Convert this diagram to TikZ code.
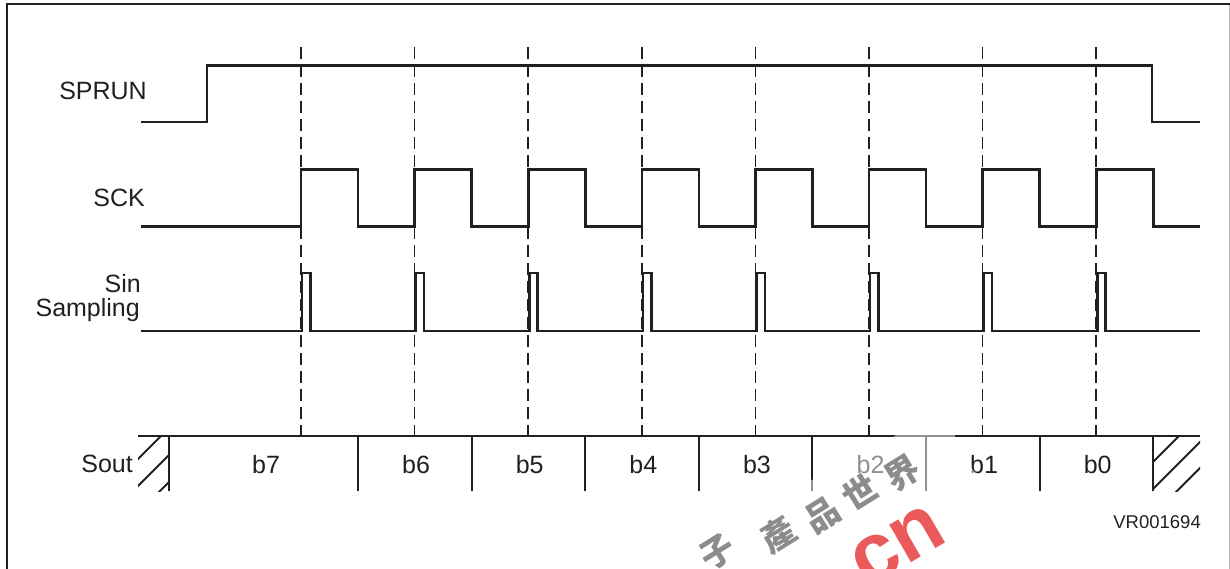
\documentclass[tikz,border=0pt]{standalone}
\usepackage{fontspec}
\setmainfont{Liberation Sans}
\newfontfamily\cjk{Noto Sans CJK SC}
\definecolor{ink}{RGB}{35,31,32}
\definecolor{wmgray}{RGB}{140,140,140}
\definecolor{wmred}{RGB}{235,90,90}
\begin{document}
\begin{tikzpicture}[x=1pt,y=-1pt,
  sig/.style={line width=2.6pt, line join=miter, draw=ink},
  dsh/.style={line width=1.6pt, draw=ink, dash pattern=on 12pt off 6pt},
  soutline/.style={line width=1.9pt, draw=ink},
  hatchline/.style={line width=1.9pt, draw=ink},
  lab/.style={inner sep=0pt, text=ink, font=\fontsize{25}{30}\selectfont},
  small/.style={inner sep=0pt, text=ink, font=\fontsize{18.5}{22}\selectfont},
  wm/.style={inner sep=0pt, text=wmgray, rotate=32, font=\cjk\bfseries\fontsize{34}{34}\selectfont},
]
\useasboundingbox (0,0) rectangle (1230,569);
% frame
\draw[line width=2.2pt, draw=ink] (7,569) -- (7,4.3) -- (1230,4.3);
\draw[line width=1pt, draw=gray!50] (1229,5.5) -- (1229,569);

\def\p{113.6}
% dashed reference lines
\foreach \k in {0,...,7}{
  \draw[dsh] ({301+\p*\k},47) -- ({301+\p*\k},436);
}
% SPRUN
\draw[sig] (141,122) -- (207,122) -- (207,65.5) -- (1152,65.5) -- (1152,122) -- (1200,122);
% SCK
\draw[sig] (141,226.5) foreach \k in {0,...,7}{ -- ({301+\p*\k},226.5) -- ++(0,-57) -- ++(57,0) -- ++(0,57) } -- (1200,226.5);
% Sin sampling
\draw[sig] (141,331) foreach \k in {0,...,7}{ -- ({302+\p*\k},331) -- ++(0,-58) -- ++(8.5,0) -- ++(0,58) } -- (1200,331);

% Sout
\draw[soutline] (138,436) -- (1200,436);
\draw[soutline] (169,436) -- (169,491);
\foreach \k in {0,...,7}{
  \draw[soutline] ({358+\p*\k},436) -- ({358+\p*\k},491);
}
\begin{scope}
  \clip (138,436) rectangle (169,491.5);
  \foreach \c in {597,624,651}{ \draw[hatchline] ({\c-500},500) -- ({\c-425},425); }
\end{scope}
\begin{scope}
  \clip (1153,436) rectangle (1200,491.5);
  \foreach \c in {1615,1642,1668}{ \draw[hatchline] ({\c-500},500) -- ({\c-425},425); }
\end{scope}

% labels
\node[lab, anchor=base east] (sprun) at (147,100) {SPRUN};
\node[lab, anchor=base east] (sck) at (145,207) {SCK};
\node[lab, anchor=base east] (sin) at (141,292) {Sin};
\node[lab, anchor=base east] (sampling) at (140,316) {Sampling};
\node[lab, anchor=base east] (sout) at (133,472) {Sout};
\node[lab, anchor=base] (b7) at (266,473) {b7};
\foreach \k/\t in {1/b6,2/b5,3/b4,4/b3,5/b2,6/b1,7/b0}{
  \node[lab, anchor=base] (\t) at ({301+\p*\k+1.5},473) {\t};
}
\node[small, anchor=base east] (vr) at (1201,528) {VR001694};

% watermark
\node[fill=white, opacity=0.5, rotate=28, minimum width=210pt, minimum height=90pt, inner sep=0pt] (haze) at (870,500) {};
\foreach \ch/\x/\y in {子/717/552, 產/778/535, 品/822/515, 世/860/492, 界/902/473}{
  \node[wm] at (\x,\y) {\ch};
}
\node[inner sep=0pt, rotate=30, text=wmred, font=\fontsize{82}{82}\selectfont\bfseries] (cn) at (898,546) {cn};
\end{tikzpicture}
\end{document}
